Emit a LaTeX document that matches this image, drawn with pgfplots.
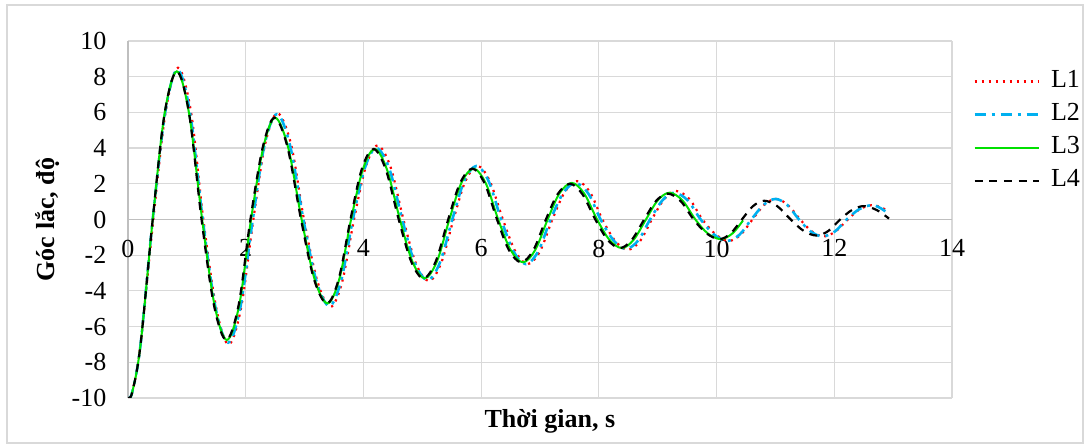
\documentclass[border=0pt]{standalone}
\usepackage{fontspec}
\setmainfont{Liberation Serif}
\usepackage{pgfplots}
\pgfplotsset{compat=1.18}
\definecolor{gridgray}{HTML}{D9D9D9}
\definecolor{axgray}{HTML}{BFBFBF}
\definecolor{cL1}{HTML}{FF0000}
\definecolor{cL2}{HTML}{00B0F0}
\definecolor{cL3}{HTML}{00E000}
\definecolor{cL4}{HTML}{000000}

\begin{document}
\begin{tikzpicture}
% chart area
\path (-64pt,-25pt) rectangle (480.5pt,199pt);
\draw[gridgray, line width=0.7pt] (-60.5pt,-22.5pt) rectangle (477.5pt,196.5pt);
\begin{axis}[
    at={(0,0)}, anchor=south west,
    scale only axis, width=412pt, height=178.5pt,
    xmin=0, xmax=14, ymin=-10, ymax=10,
    xtick={0,2,...,14}, ytick={-10,-8,...,10},
    xticklabels={0,2,4,6,8,10,12,14},
    yticklabels={-10,-8,-6,-4,-2,0,2,4,6,8,10},
    axis x line=middle, axis y line=left,
    hide obscured x ticks=false,
    axis line style={draw=axgray, line width=0.7pt, -},
    major tick length=0pt,
    grid=major,
    grid style={draw=gridgray, line width=0.6pt},
    tick label style={font=\fontsize{13}{15}\selectfont},
    yticklabel style={xshift=-7.3pt},
    xticklabel style={yshift=-6.6pt},
    xlabel={\bfseries Thời gian, s},
    ylabel={\bfseries Góc lắc, độ},
    label style={font=\fontsize{13}{15}\selectfont},
    xlabel style={at={(axis description cs:0.512,0)}, yshift=-11.5pt, anchor=center},
    ylabel style={at={(axis description cs:0,0.5)}, yshift=40pt, anchor=center},
    legend style={draw=none, fill=none, inner sep=0pt, at={(axis description cs:1.0255,0.919)}, anchor=north west,
        font=\fontsize{13}{15}\selectfont, row sep=8.1pt,
        nodes={inner sep=0pt, text height=8.5pt, text depth=0pt},
        /tikz/every odd column/.append style={column sep=5.5pt}},
    legend cell align=left,
    legend image code/.code={\draw[#1] (0pt,-1.3pt) -- (32pt,-1.3pt);},
    every axis plot/.append style={smooth, tension=0.55},
]
\addplot[cL1, line width=1.1pt, dash pattern=on 1.1pt off 2.4pt] coordinates {
(0,-10) (0.07,-9.7) (0.21,-7.1) (0.43,0) (0.64,6.04) (0.85,8.5) (1.07,6.04) (1.28,0) (1.50,-4.97) (1.71,-7.0) (1.92,-4.97) (2.13,0) (2.33,4.22) (2.54,5.95) (2.77,4.22) (2.99,0) (3.22,-3.48) (3.44,-4.9) (3.64,-3.48) (3.84,0) (4.04,2.95) (4.24,4.15) (4.46,2.95) (4.68,0) (4.89,-2.45) (5.11,-3.45) (5.32,-2.45) (5.53,0) (5.73,2.13) (5.94,3.0) (6.15,2.13) (6.37,0) (6.58,-1.78) (6.79,-2.5) (7.00,-1.78) (7.21,0) (7.42,1.53) (7.63,2.15) (7.85,1.53) (8.06,0) (8.28,-1.21) (8.49,-1.7) (8.70,-1.21) (8.90,0) (9.11,1.14) (9.31,1.6) (9.54,1.14) (9.76,0) (9.99,-0.85) (10.21,-1.2) (10.41,-0.85) (10.61,0) (10.81,0.82) (11.01,1.15) (11.21,0.82) (11.42,0) (11.62,-0.67) (11.82,-0.95) (12.02,-0.67) (12.23,0) (12.43,0.57) (12.63,0.8) (12.78,0.7) (12.93,0.45)
};
\addlegendentry{L1}
\addplot[cL2, line width=1.3pt, dash pattern=on 5.5pt off 3pt on 1.5pt off 3pt] coordinates {
(0,-10) (0.07,-9.7) (0.21,-7.1) (0.42,0) (0.63,5.96) (0.84,8.4) (1.055,5.96) (1.27,0) (1.485,-4.9) (1.70,-6.9) (1.91,-4.9) (2.12,0) (2.32,4.19) (2.53,5.9) (2.75,4.19) (2.98,0) (3.20,-3.44) (3.42,-4.85) (3.62,-3.44) (3.82,0) (4.02,2.84) (4.22,4.0) (4.44,2.84) (4.66,0) (4.87,-2.41) (5.09,-3.4) (5.30,-2.41) (5.51,0) (5.71,2.13) (5.92,3.0) (6.13,2.13) (6.34,0) (6.55,-1.78) (6.76,-2.5) (6.97,-1.78) (7.18,0) (7.39,1.46) (7.60,2.05) (7.82,1.46) (8.03,0) (8.25,-1.17) (8.46,-1.65) (8.67,-1.17) (8.87,0) (9.08,1.07) (9.28,1.5) (9.51,1.07) (9.73,0) (9.96,-0.85) (10.18,-1.2) (10.39,-0.85) (10.59,0) (10.80,0.82) (11.00,1.15) (11.20,0.82) (11.40,0) (11.60,-0.67) (11.80,-0.95) (12.01,-0.67) (12.21,0) (12.42,0.57) (12.62,0.8) (12.75,0.7) (12.88,0.43)
};
\addlegendentry{L2}
\addplot[cL3, line width=1pt, solid] coordinates {
(0,-10) (0.07,-9.7) (0.21,-7.1) (0.42,0) (0.62,5.89) (0.83,8.3) (1.04,5.89) (1.26,0) (1.47,-4.79) (1.68,-6.75) (1.89,-4.79) (2.09,0) (2.30,4.05) (2.50,5.7) (2.72,4.05) (2.95,0) (3.17,-3.34) (3.39,-4.7) (3.59,-3.34) (3.79,0) (3.99,2.80) (4.19,3.95) (4.40,2.80) (4.62,0) (4.83,-2.34) (5.04,-3.3) (5.25,-2.34) (5.46,0) (5.66,2.02) (5.87,2.85) (6.08,2.02) (6.29,0) (6.50,-1.70) (6.71,-2.4) (6.92,-1.70) (7.13,0) (7.33,1.46) (7.54,2.05) (7.75,1.46) (7.97,0) (8.18,-1.14) (8.39,-1.6) (8.59,-1.14) (8.80,0) (9.00,1.07) (9.20,1.5) (9.42,1.07) (9.64,0) (9.85,-0.78) (10.07,-1.1) (10.27,-0.78) (10.45,-0.05)
};
\addlegendentry{L3}
\addplot[cL4, line width=1.1pt, dash pattern=on 4pt off 3.3pt] coordinates {
(0,-10) (0.07,-9.7) (0.21,-7.1) (0.42,0) (0.62,5.89) (0.83,8.3) (1.04,5.89) (1.25,0) (1.46,-4.79) (1.67,-6.75) (1.88,-4.79) (2.08,0) (2.29,4.05) (2.49,5.7) (2.71,4.05) (2.94,0) (3.16,-3.34) (3.38,-4.7) (3.58,-3.34) (3.78,0) (3.97,2.80) (4.17,3.95) (4.38,2.80) (4.60,0) (4.81,-2.34) (5.02,-3.3) (5.23,-2.34) (5.44,0) (5.64,2.02) (5.85,2.85) (6.06,2.02) (6.27,0) (6.47,-1.70) (6.68,-2.4) (6.89,-1.70) (7.10,0) (7.30,1.42) (7.51,2.0) (7.72,1.42) (7.94,0) (8.15,-1.14) (8.36,-1.6) (8.56,-1.14) (8.77,0) (8.97,1.03) (9.17,1.45) (9.39,1.03) (9.61,0) (9.83,-0.78) (10.05,-1.1) (10.24,-0.78) (10.43,0) (10.62,0.75) (10.81,1.05) (11.03,0.75) (11.26,0) (11.48,-0.64) (11.70,-0.9) (11.90,-0.64) (12.10,0) (12.30,0.53) (12.50,0.75) (12.72,0.53) (12.93,0.05)
};
\addlegendentry{L4}
\end{axis}
\end{tikzpicture}
\end{document}
